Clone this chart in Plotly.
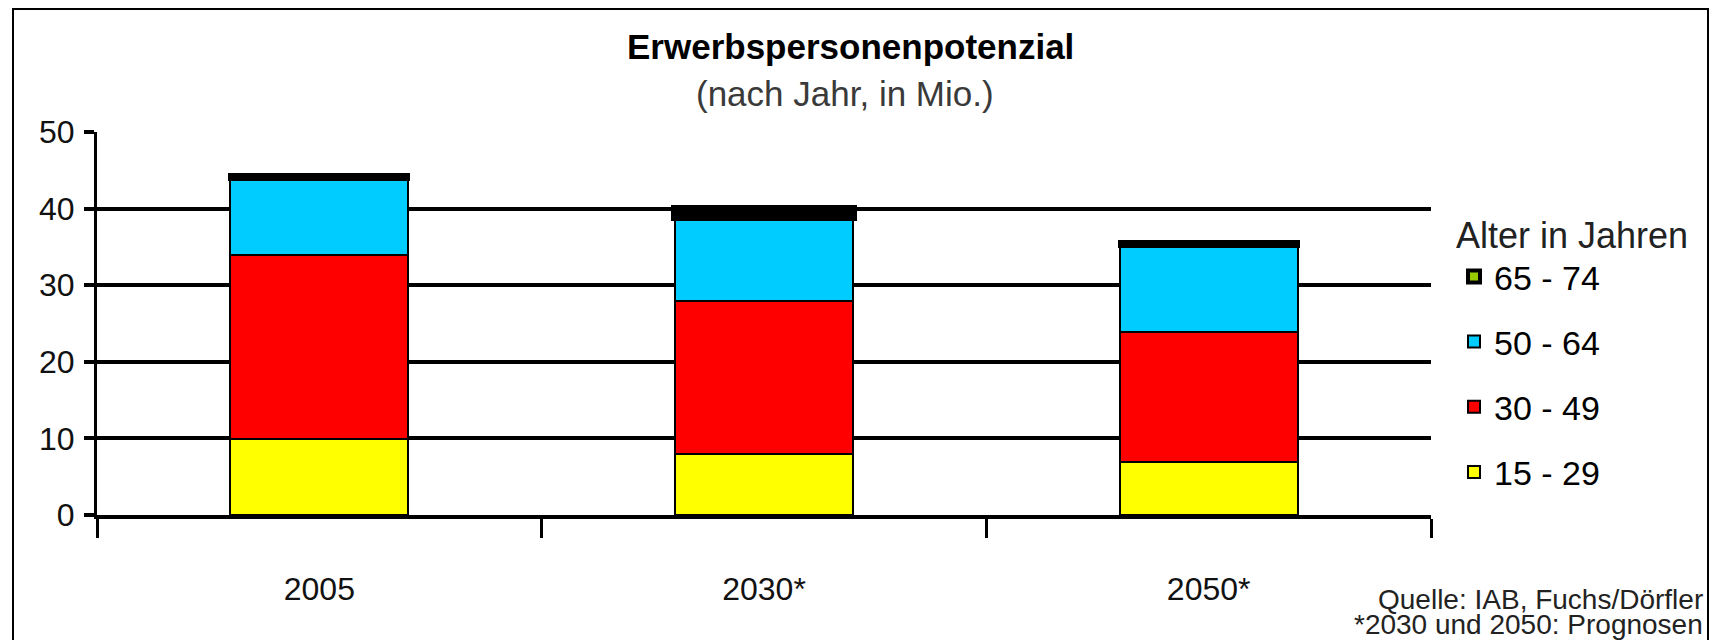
import plotly.graph_objects as go

# Labour force potential by age group (millions)
years = ["2005", "2030*", "2050*"]
age_groups = ["15 - 29", "30 - 49", "50 - 64", "65 - 74"]
age_15_29 = [9.9, 7.9, 6.9]
age_30_49 = [24.0, 20.0, 17.0]
age_50_64 = [10.0, 11.0, 11.2]
age_65_74 = [0.5, 1.1, 0.6]
y_ticks = [0, 10, 20, 30, 40, 50]

series = [age_15_29, age_30_49, age_50_64, age_65_74]
colors = ["#FFFF00", "#FF0000", "#00CCFF", "#99CC00"]
# outline widths per age group (the thin top band gets a heavier edge)
outline = [2, 2, 2, [4, 8, 4]]

NARROW = "Liberation Sans Narrow, Arial Narrow, Liberation Sans, Arial, sans-serif"
SANS = "Liberation Sans, Arial, sans-serif"

W, H = 1715, 640
ML, MR, MT, MB = 97, 284, 132, 125
PW, PH = W - ML - MR, H - MT - MB


def px_x(x):
    return (x - ML) / PW


def px_y(y):
    return (H - MB - y) / PH


fig = go.Figure()
for i, (name, vals, col, lw) in enumerate(zip(age_groups, series, colors, outline)):
    fig.add_trace(go.Bar(
        x=years, y=vals, name=name, legendgroup=name,
        legendrank=len(age_groups) - i,
        marker=dict(color=col, line=dict(color="black", width=lw)),
    ))

fig.update_layout(
    width=W, height=H,
    margin=dict(l=ML, r=MR, t=MT, b=MB, autoexpand=False),
    barmode="stack", bargap=0.6,
    plot_bgcolor="white", paper_bgcolor="white",
    font=dict(family=NARROW, color="black"),
    showlegend=True,
    legend=dict(
        x=px_x(1454), xanchor="left", y=px_y(201), yanchor="top",
        traceorder="grouped", tracegroupgap=18,
        font=dict(family=NARROW, size=34, color="black"),
        title=dict(text="Alter in Jahren", font=dict(family=SANS, size=36, color="#222222")),
        bgcolor="rgba(0,0,0,0)",
    ),
    xaxis=dict(
        tickson="boundaries", ticks="outside", ticklen=19, tickwidth=3, tickcolor="black",
        showline=True, linecolor="black", linewidth=4,
        showgrid=False, ticklabelstandoff=43,
        tickfont=dict(family=NARROW, size=32, color="#111111"),
    ),
    yaxis=dict(
        range=[0, 50], tickvals=y_ticks, ticks="outside", ticklen=10, tickwidth=4,
        tickcolor="black", showline=True, linecolor="black", linewidth=3,
        showgrid=True, gridcolor="black", gridwidth=4, zeroline=False,
        ticklabelstandoff=3,
        tickfont=dict(family=NARROW, size=32, color="#111111"),
    ),
    annotations=[
        dict(text="<b>Erwerbspersonenpotenzial</b>", x=px_x(850), y=px_y(46),
             xref="paper", yref="paper", xanchor="center", yanchor="middle",
             showarrow=False, font=dict(family=SANS, size=35, color="black")),
        dict(text="(nach Jahr, in Mio.)", x=px_x(845), y=px_y(94),
             xref="paper", yref="paper", xanchor="center", yanchor="middle",
             showarrow=False, font=dict(family=SANS, size=35, color="#3a3a3a")),
        dict(text="Quelle: IAB, Fuchs/Dörfler", x=px_x(1705), y=px_y(599),
             xref="paper", yref="paper", xanchor="right", yanchor="middle",
             showarrow=False, font=dict(family=SANS, size=28, color="#222222")),
        dict(text="*2030 und 2050: Prognosen", x=px_x(1705), y=px_y(624),
             xref="paper", yref="paper", xanchor="right", yanchor="middle",
             showarrow=False, font=dict(family=SANS, size=28, color="#222222")),
    ],
    shapes=[
        dict(type="rect", xref="paper", yref="paper",
             x0=px_x(13), x1=px_x(1708), y0=px_y(660), y1=px_y(9),
             line=dict(color="black", width=2), fillcolor="rgba(0,0,0,0)", layer="above"),
    ],
)

fig.write_html("out.html")
